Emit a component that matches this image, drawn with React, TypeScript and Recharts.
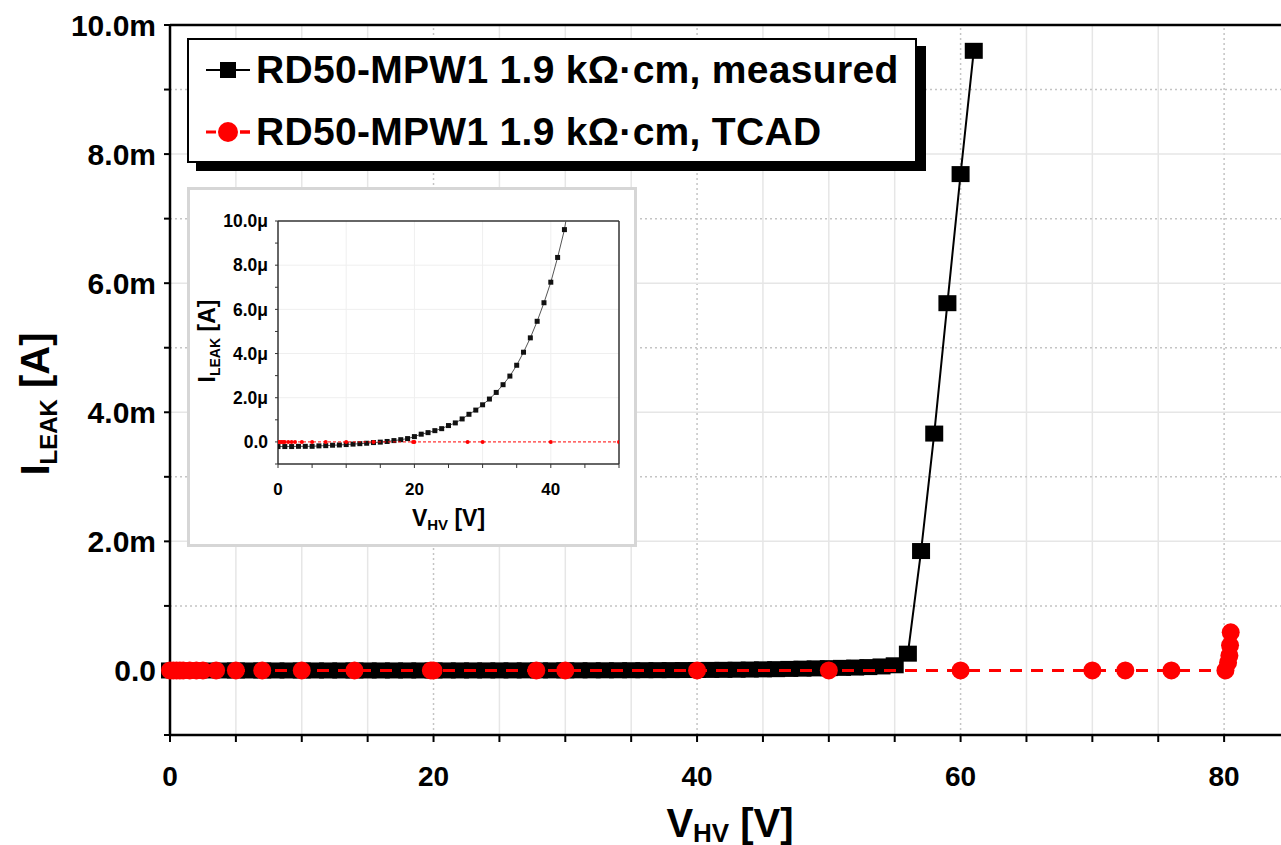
import React from 'react';
import { LineChart, Line, XAxis, YAxis, ReferenceLine, Legend } from 'recharts';

const FONT = '"Liberation Sans", Arial, Helvetica, sans-serif';

// measured leakage current, 1 V steps, in A
const measuredVoltage = [
  0, 1, 2, 3, 4, 5, 6, 7, 8, 9, 10, 11, 12, 13, 14, 15, 16, 17, 18, 19, 20,
  21, 22, 23, 24, 25, 26, 27, 28, 29, 30, 31, 32, 33, 34, 35, 36, 37, 38, 39, 40,
  41, 42, 43, 44, 45, 46, 47, 48, 49, 50, 51, 52, 53, 54, 55, 56, 57, 58, 59, 60, 61,
];
const measuredCurrent = [
  -0.21e-6, -0.21e-6, -0.21e-6, -0.2e-6, -0.2e-6, -0.2e-6, -0.18e-6, -0.17e-6, -0.15e-6, -0.14e-6, -0.12e-6,
  -0.1e-6, -0.08e-6, -0.06e-6, -0.03e-6, -0.01e-6, 0.02e-6, 0.06e-6, 0.1e-6, 0.15e-6, 0.24e-6,
  0.35e-6, 0.42e-6, 0.51e-6, 0.6e-6, 0.74e-6, 0.86e-6, 1.04e-6, 1.25e-6, 1.44e-6, 1.68e-6,
  1.94e-6, 2.24e-6, 2.59e-6, 2.98e-6, 3.47e-6, 4.06e-6, 4.71e-6, 5.46e-6, 6.3e-6, 7.23e-6,
  8.35e-6, 9.61e-6, 11.5e-6, 14e-6, 17e-6, 20e-6, 24e-6, 28e-6, 32e-6, 36e-6,
  40e-6, 45e-6, 52e-6, 62e-6, 80e-6, 0.26e-3, 1.85e-3, 3.67e-3, 5.69e-3, 7.69e-3, 9.6e-3,
];

// TCAD simulation, in A
const tcadVoltage = [
  0, 0.25, 0.5, 0.75, 1, 1.5, 2, 2.5, 3.5, 5, 7, 10, 14, 19.8, 20, 27.8, 30, 40, 50,
  60, 70, 72.5, 76, 80.1, 80.3, 80.4, 80.45, 80.5,
];
const tcadCurrent = [
  0, 0, 0, 0, 0, 0, 0, 0, 0, 0, 0, 0, 0, 0, 0, 0, 0, 0, 0,
  0, 0, 0, 0, 0, 0.12e-3, 0.23e-3, 0.39e-3, 0.59e-3,
];

const seriesNames = ['RD50-MPW1 1.9 kΩ·cm, measured', 'RD50-MPW1 1.9 kΩ·cm, TCAD'];

const mainXTicks = [0, 5, 10, 15, 20, 25, 30, 35, 40, 45, 50, 55, 60, 65, 70, 75, 80];
const mainXLabels = [0, 20, 40, 60, 80];
const mainYTicks = [-1, 0, 1, 2, 3, 4, 5, 6, 7, 8, 9, 10];
const mainYLabels = [0, 2, 4, 6, 8, 10];

const insetXTicks = [0, 5, 10, 15, 20, 25, 30, 35, 40, 45, 50];
const insetXLabels = [0, 20, 40];
const insetYTicks = [-1, 0, 1, 2, 3, 4, 5, 6, 7, 8, 9, 10];
const insetYLabels = [0, 2, 4, 6, 8, 10];

const toSeries = (vs: number[], is: number[], scale: number) =>
  vs.map((v, k) => ({ v, i: is[k] * scale }));

const mainMeasured = toSeries(measuredVoltage, measuredCurrent, 1e3);
const mainTcad = toSeries(tcadVoltage, tcadCurrent, 1e3);
const insetMeasured = toSeries(measuredVoltage, measuredCurrent, 1e6);
const insetTcad = toSeries(tcadVoltage, tcadCurrent, 1e6);

const xFmt = (labels: number[]) => (v: number) => (labels.includes(v) ? String(v) : '');
const yFmt = (labels: number[], unit: string) => (v: number) =>
  !labels.includes(v) ? '' : v === 0 ? '0.0' : `${v.toFixed(1)}${unit}`;

const square = (w: number, h: number, fill: string) => (p: any) => {
  if (p.cx == null || p.cy == null) return <g key={`sq-${p.index}`} />;
  return <rect key={`sq-${p.index}`} x={p.cx - w / 2} y={p.cy - h / 2} width={w} height={h} fill={fill} />;
};

const XTitle = (props: any) => {
  const { viewBox, size, sub, dy, shift } = props;
  const { x, y, width } = viewBox;
  return (
    <text x={x + width / 2} y={y + dy} textAnchor="middle" fontFamily={FONT} fontWeight={700} fontSize={size} fill="#000">
      V<tspan fontSize={sub} dy={shift}>HV</tspan>
      <tspan dy={-shift}> [V]</tspan>
    </text>
  );
};

const YTitle = (props: any) => {
  const { viewBox, size, sub, dx, dy, shift } = props;
  const x = viewBox.x + dx;
  const y = viewBox.y + viewBox.height / 2 + dy;
  return (
    <text transform={`rotate(-90, ${x}, ${y})`} x={x} y={y} textAnchor="middle" fontFamily={FONT} fontWeight={700} fontSize={size} fill="#000">
      I<tspan fontSize={sub} dy={shift}>LEAK</tspan>
      <tspan dy={-shift}> [A]</tspan>
    </text>
  );
};

const LegendBox = ({ payload }: any) => {
  const rows = [...(payload || [])].sort(
    (a: any, b: any) => seriesNames.indexOf(a.value) - seriesNames.indexOf(b.value)
  );
  return (
    <div style={{ width: 730, height: 125, boxSizing: 'border-box', border: '2px solid #000', background: '#fff', boxShadow: '9px 8px 0 #000', position: 'relative' }}>
      <svg width={726} height={121} style={{ position: 'absolute', left: 0, top: 0 }}>
        {rows.map((e: any, k: number) => {
          const cy = k === 0 ? 30 : 92;
          const isTcad = e.value === seriesNames[1];
          return (
            <g key={k}>
              {isTcad ? (
                <>
                  <line x1={17} x2={61} y1={cy} y2={cy} stroke="#ff0000" strokeWidth={3} strokeDasharray="10 24" />
                  <line x1={51} x2={61} y1={cy} y2={cy} stroke="#ff0000" strokeWidth={3} />
                  <circle cx={39} cy={cy} r={10} fill="#ff0000" />
                </>
              ) : (
                <>
                  <line x1={17} x2={61} y1={cy} y2={cy} stroke="#000" strokeWidth={2} />
                  <rect x={31} y={cy - 8} width={16} height={16} fill="#000" />
                </>
              )}
              <text x={67} y={cy + 13} fontFamily={FONT} fontWeight={700} fontSize={39} letterSpacing={0.3} fill="#000">
                {e.value}
              </text>
            </g>
          );
        })}
      </svg>
    </div>
  );
};

const tickStyle = (size: number) => ({ fontSize: size, fontWeight: 700, fill: '#000', fontFamily: FONT });

export default function App() {
  const mainGridSolidX = mainXTicks.filter((v) => v > 0 && !mainXLabels.includes(v));
  const mainGridDottedX = mainXLabels.filter((v) => v > 0);
  const mainGridSolidY = mainYLabels.filter((v) => v > 0 && v < 10);
  const mainGridDottedY = mainYTicks.filter((v) => v > 0 && !mainYLabels.includes(v));

  return (
    <div style={{ position: 'fixed', left: 0, top: 0, width: 1281, height: 845, overflow: 'hidden', background: '#fff' }}>
      <LineChart width={1300} height={845} margin={{ top: 25, right: 10, left: 0, bottom: 0 }}>
        <XAxis
          type="number"
          dataKey="v"
          domain={[0, 85]}
          ticks={mainXTicks}
          tickFormatter={xFmt(mainXLabels)}
          interval={0}
          height={110}
          tickSize={7}
          tickMargin={24}
          tick={tickStyle(28)}
          axisLine={{ stroke: '#000', strokeWidth: 2.5 }}
          tickLine={{ stroke: '#000', strokeWidth: 2 }}
          label={<XTitle size={40} sub={26} dy={102} shift={5} />}
        />
        <YAxis
          type="number"
          dataKey="i"
          domain={[-1, 10]}
          ticks={mainYTicks}
          tickFormatter={yFmt(mainYLabels, 'm')}
          interval={0}
          width={170}
          tickSize={6}
          tickMargin={8}
          tick={tickStyle(30)}
          axisLine={{ stroke: '#000', strokeWidth: 2.5 }}
          tickLine={{ stroke: '#000', strokeWidth: 2 }}
          label={<YTitle size={40} sub={24} dx={49} dy={24} shift={8} />}
        />
        {mainGridSolidX.map((v) => (
          <ReferenceLine key={`gx${v}`} x={v} stroke="#e6e6e6" strokeWidth={1.5} />
        ))}
        {mainGridDottedX.map((v) => (
          <ReferenceLine key={`dx${v}`} x={v} stroke="#c4c4c4" strokeWidth={1.5} strokeDasharray="2 3" />
        ))}
        {mainGridSolidY.map((v) => (
          <ReferenceLine key={`gy${v}`} y={v} stroke="#e6e6e6" strokeWidth={1.5} />
        ))}
        {mainGridDottedY.map((v) => (
          <ReferenceLine key={`dy${v}`} y={v} stroke="#c4c4c4" strokeWidth={1.5} strokeDasharray="2 3" />
        ))}
        <ReferenceLine y={10} stroke="#000" strokeWidth={2.5} />
        <Legend
          layout="horizontal"
          verticalAlign="middle"
          align="center"
          wrapperStyle={{ position: 'absolute', left: 187, top: 38, width: 730, height: 125 }}
          content={(p: any) => <LegendBox payload={p.payload} />}
        />
        <Line
          data={mainMeasured}
          dataKey="i"
          name={seriesNames[0]}
          stroke="#000"
          strokeWidth={2}
          dot={square(18, 16, '#000')}
          isAnimationActive={false}
        />
        <Line
          data={mainTcad}
          dataKey="i"
          name={seriesNames[1]}
          stroke="#ff0000"
          strokeWidth={3}
          strokeDasharray="12 9"
          dot={{ r: 9, fill: '#ff0000', stroke: 'none' }}
          zIndex={700}
          isAnimationActive={false}
        />
      </LineChart>

      <div style={{ position: 'absolute', left: 187, top: 187, width: 450, height: 360, boxSizing: 'border-box', border: '3px solid #d6d6d6', background: '#fff' }}>
        <LineChart width={444} height={354} margin={{ top: 31, right: 15, left: 0, bottom: 0 }}>
          <XAxis
            type="number"
            dataKey="v"
            domain={[0, 50]}
            allowDataOverflow
            ticks={insetXTicks}
            tickFormatter={xFmt(insetXLabels)}
            interval={0}
            height={80}
            tickSize={4}
            tickMargin={15}
            tick={tickStyle(17)}
            axisLine={{ stroke: '#333', strokeWidth: 1.5 }}
            tickLine={{ stroke: '#333', strokeWidth: 1 }}
            label={<XTitle size={23} sub={15} dy={62} shift={4} />}
          />
          <YAxis
            type="number"
            dataKey="i"
            domain={[-1, 10]}
            allowDataOverflow
            ticks={insetYTicks}
            tickFormatter={yFmt(insetYLabels, 'μ')}
            interval={0}
            width={88}
            tickSize={3}
            tickMargin={7}
            tick={tickStyle(17.5)}
            axisLine={{ stroke: '#333', strokeWidth: 1.5 }}
            tickLine={{ stroke: '#333', strokeWidth: 1 }}
            label={<YTitle size={23} sub={14} dx={25} dy={-1.5} shift={5} />}
          />
          {insetYLabels.filter((v) => v > 0 && v < 10).map((v) => (
            <ReferenceLine key={`iy${v}`} y={v} stroke="#efefef" strokeWidth={1} />
          ))}
          {insetXTicks.filter((v) => v > 0 && v < 50 && v % 10 === 0).map((v) => (
            <ReferenceLine key={`ix${v}`} x={v} stroke="#efefef" strokeWidth={1} />
          ))}
          <ReferenceLine y={10} stroke="#333" strokeWidth={1.5} />
          <ReferenceLine x={50} stroke="#333" strokeWidth={1.5} />
          <Line
            data={insetMeasured}
            dataKey="i"
            name={seriesNames[0]}
            stroke="#555"
            strokeWidth={1}
            dot={square(5, 5, '#111')}
            isAnimationActive={false}
          />
          <Line
            data={insetTcad}
            dataKey="i"
            name={seriesNames[1]}
            stroke="#ff0000"
            strokeWidth={1}
            strokeDasharray="3 2"
            dot={{ r: 2, fill: '#ff0000', stroke: 'none' }}
            zIndex={700}
            isAnimationActive={false}
          />
        </LineChart>
      </div>
    </div>
  );
}
